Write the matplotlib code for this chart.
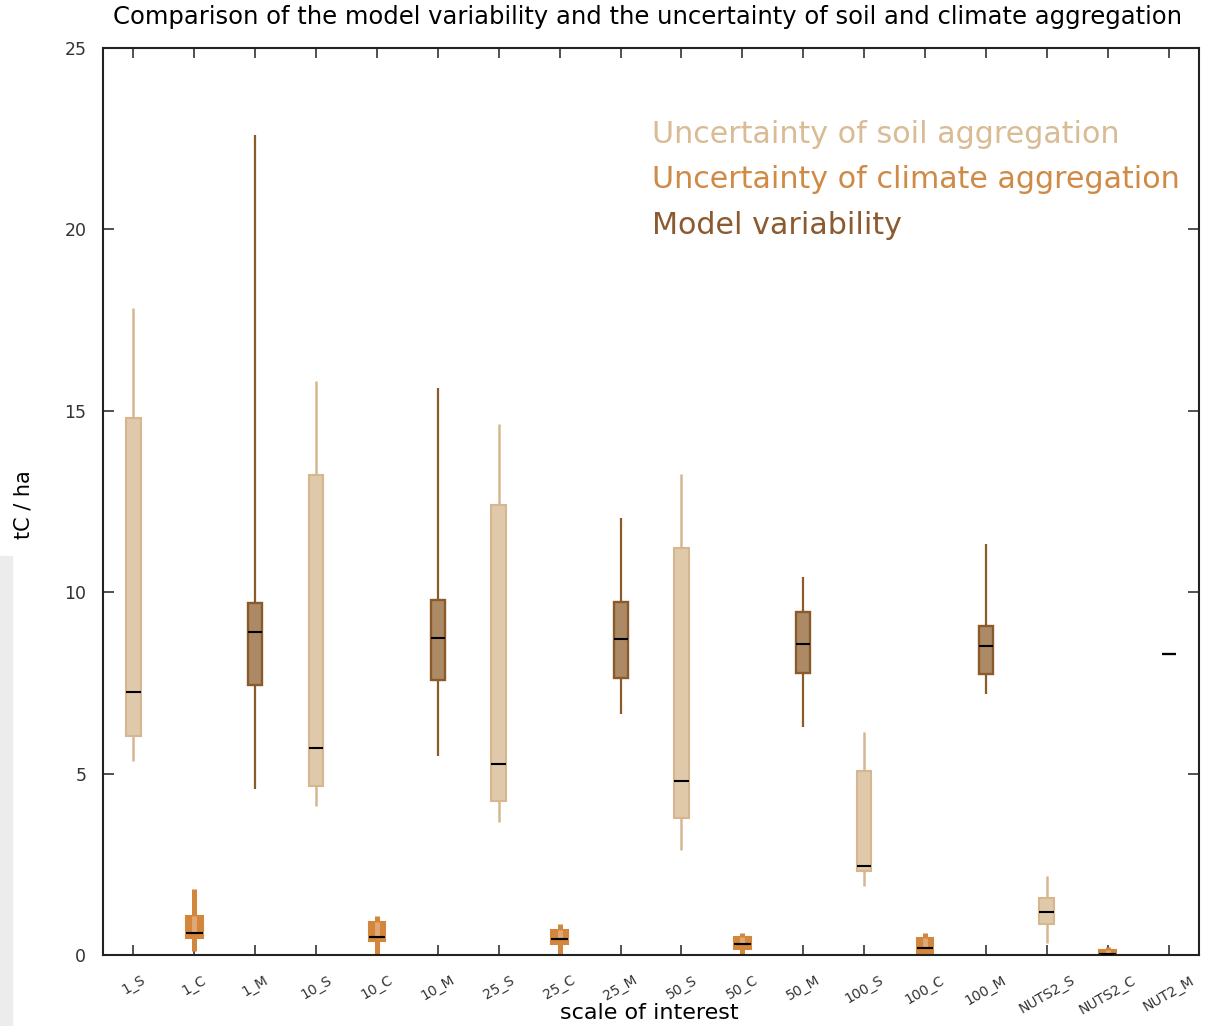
import matplotlib
matplotlib.use('Agg')
import matplotlib.pyplot as plt
from matplotlib.patches import Rectangle

# scales of interest, each with soil (S), climate (C) and model (M) boxes
labels = ['1_S', '1_C', '1_M', '10_S', '10_C', '10_M', '25_S', '25_C', '25_M',
          '50_S', '50_C', '50_M', '100_S', '100_C', '100_M',
          'NUTS2_S', 'NUTS2_C', 'NUT2_M']

soil_whislo = [5.36, 4.12, 3.66, 2.89, 1.91, 0.32]
soil_q1 = [6.04, 4.66, 4.24, 3.78, 2.32, 0.85]
soil_med = [7.26, 5.70, 5.27, 4.80, 2.46, 1.19]
soil_q3 = [14.81, 13.24, 12.39, 11.23, 5.07, 1.58]
soil_whishi = [17.83, 15.82, 14.65, 13.26, 6.15, 2.19]

clim_whislo = [0.12, 0.03, 0.0, 0.0, 0.0, 0.0]
clim_q1 = [0.46, 0.39, 0.29, 0.17, 0.06, 0.0]
clim_med = [0.61, 0.50, 0.43, 0.30, 0.19, 0.02]
clim_q3 = [1.07, 0.90, 0.68, 0.49, 0.48, 0.14]
clim_whishi = [1.82, 1.07, 0.85, 0.60, 0.60, 0.23]

model_whislo = [4.58, 5.49, 6.63, 6.28, 7.20, 8.31]
model_q1 = [7.45, 7.59, 7.64, 7.77, 7.75, 8.31]
model_med = [8.89, 8.74, 8.71, 8.58, 8.52, 8.31]
model_q3 = [9.70, 9.79, 9.74, 9.45, 9.08, 8.31]
model_whishi = [22.60, 15.64, 12.04, 10.43, 11.33, 8.31]

SOIL_FACE, SOIL_EDGE = '#dfc9aa', '#d6b68e'
CLIM_FACE, CLIM_EDGE, CLIM_INNER = '#d3873d', '#d3873d', '#e0a878'
MODEL_FACE, MODEL_EDGE = '#ad8a66', '#8b5a2b'


def make_stats(lo, q1, med, q3, hi):
    return [dict(whislo=a, q1=b, med=c, q3=d, whishi=e, fliers=[])
            for a, b, c, d, e in zip(lo, q1, med, q3, hi)]


def draw_group(ax, stats, positions, width, face, edge, lw_box, lw_whisk):
    ax.bxp(stats, positions=positions, widths=width, patch_artist=True,
           showcaps=False, showfliers=False, manage_ticks=False,
           boxprops=dict(facecolor=face, edgecolor=edge, linewidth=lw_box),
           whiskerprops=dict(color=edge, linewidth=lw_whisk, solid_capstyle='butt'),
           medianprops=dict(color='black', linewidth=1.5, solid_capstyle='butt'))


fig = plt.figure(figsize=(12.28, 10.26), dpi=100)
ax = fig.add_axes([0.0839, 0.0692, 0.8925, 0.884])

pos_s = list(range(0, 18, 3))
pos_c = list(range(1, 18, 3))
pos_m = list(range(2, 18, 3))

draw_group(ax, make_stats(soil_whislo, soil_q1, soil_med, soil_q3, soil_whishi),
           pos_s, 0.24, SOIL_FACE, SOIL_EDGE, 1.5, 1.8)
draw_group(ax, make_stats(clim_whislo, clim_q1, clim_med, clim_q3, clim_whishi),
           pos_c, 0.27, CLIM_FACE, CLIM_EDGE, 1.5, 3.6)
# lighter core inside the climate boxes
ax.vlines(pos_c, clim_med, clim_q3, color=CLIM_INNER, linewidth=3.5, zorder=2.5)
ax.hlines(clim_med, [p - 0.11 for p in pos_c], [p + 0.11 for p in pos_c],
          color='black', linewidth=1.5, zorder=3)
draw_group(ax, make_stats(model_whislo, model_q1, model_med, model_q3, model_whishi),
           pos_m, 0.23, MODEL_FACE, MODEL_EDGE, 1.7, 1.6)

ax.set_xlim(-0.5, 17.5)
ax.set_ylim(0, 25)
ax.set_yticks([0, 5, 10, 15, 20, 25])
ax.set_xticks(range(len(labels)))
ax.set_xticklabels(labels, rotation=30, ha='center', fontsize=10, color='#333333')
ax.tick_params(axis='x', direction='in', length=7, width=1.2, color='#333333',
               top=True, pad=13)
ax.tick_params(axis='y', direction='in', length=8, width=1.2, color='#333333',
               right=True, pad=12, labelsize=12.5, labelcolor='#333333')
for sp in ax.spines.values():
    sp.set_color('#222222')
    sp.set_linewidth(1.5)

fig.text(0.0195, 0.508, 'tC / ha', rotation=90, ha='center', va='center', fontsize=15)
fig.text(0.529, 0.0127, 'scale of interest', ha='center', va='center', fontsize=16)

fig.text(0.527, 0.983, 'Comparison of the model variability and the uncertainty '
         'of soil and climate aggregation', ha='center', va='center', fontsize=17.5)

# legend written as coloured text
legend_items = ['Uncertainty of soil aggregation',
                'Uncertainty of climate aggregation',
                'Model variability']
legend_colors = ['#d9bb94', '#cf8a45', '#8b5a2e']
for i, (txt, col) in enumerate(zip(legend_items, legend_colors)):
    ax.text(0.501, 0.905 - i * 0.0505, txt, color=col, fontsize=21.7,
            transform=ax.transAxes, ha='left', va='center')

# faint grey strip along the left border
fig.patches.append(Rectangle((0, 0), 12 / 1228, 470 / 1026, color='#ececec',
                             transform=fig.transFigure, zorder=0))

fig.savefig('out.png', dpi=100)
